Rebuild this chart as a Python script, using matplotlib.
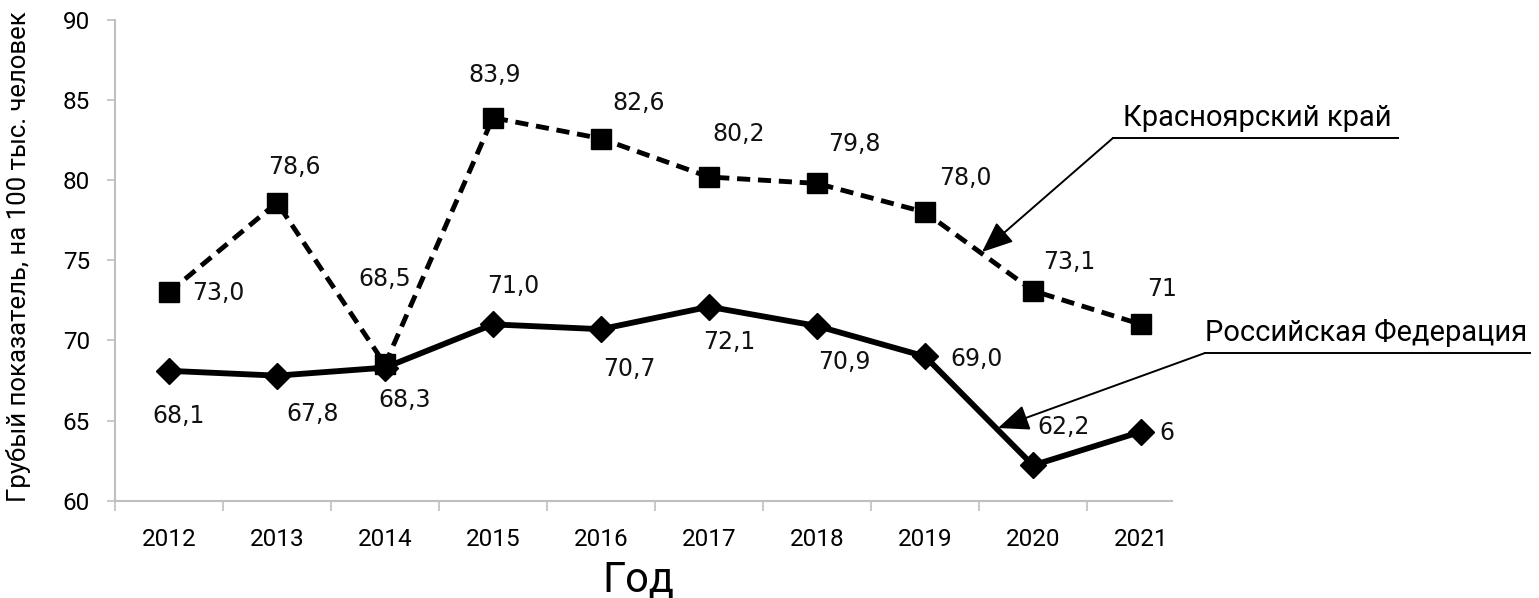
import matplotlib.pyplot as plt

# данные
years = ['2012', '2013', '2014', '2015', '2016', '2017', '2018', '2019', '2020', '2021']
krsk = [73.0, 78.6, 68.5, 83.9, 82.6, 80.2, 79.8, 78.0, 73.1, 71.0]
rf = [68.1, 67.8, 68.3, 71.0, 70.7, 72.1, 70.9, 69.0, 62.2, 64.3]
krsk_labels = ['73,0', '78,6', '68,5', '83,9', '82,6', '80,2', '79,8', '78,0', '73,1', '71']
rf_labels = ['68,1', '67,8', '68,3', '71,0', '70,7', '72,1', '70,9', '69,0', '62,2', '6']

# смещения подписей (пиксели, вверх +)
krsk_off = [(49, -1), (17, 36), (0, 85), (2, 43), (38, 36), (30, 43), (37, 39), (40, 34), (36, 29), (6, 35)]
rf_off = [(10, -45), (36, -38), (20, -32), (20, 38), (28, -40), (20, -35), (27, -36), (52, -3), (31, 38), (18, -1)]

W, H = 1539, 598
narrow = ['Liberation Sans Narrow', 'Roboto', 'DejaVu Sans']
grey = '#bfbfbf'

fig = plt.figure(figsize=(W / 100, H / 100), dpi=100)
ax = fig.add_axes([115 / W, 1 - 500.6 / H, (1172 - 115) / W, (500.6 - 20) / H])

x = list(range(len(years)))
ax.plot(x, krsk, color='black', linewidth=3.5, dashes=(2.7, 1.6),
        marker='s', markersize=14, zorder=3)
ax.plot(x, rf, color='black', linewidth=4.2, linestyle='-',
        marker='D', markersize=13.5, zorder=4)

for i in x:
    ha = 'left' if i == len(x) - 1 else 'center'
    ax.annotate(krsk_labels[i], (x[i], krsk[i]), xytext=krsk_off[i],
                textcoords='offset pixels', ha=ha, va='center',
                fontsize=17, family='DejaVu Sans', color='#111111',
                annotation_clip=False)
    ax.annotate(rf_labels[i], (x[i], rf[i]), xytext=rf_off[i],
                textcoords='offset pixels', ha=ha, va='center',
                fontsize=17, family='DejaVu Sans', color='#111111',
                annotation_clip=False)

ax.set_xlim(-0.5, 9.287)
ax.set_ylim(60, 90)
ax.set_yticks(range(60, 91, 5))
ax.set_xticks(x)
ax.set_xticklabels(years)
ax.set_xticks([i - 0.5 for i in range(10)], minor=True)

for s in ['top', 'right']:
    ax.spines[s].set_visible(False)
for s in ['left', 'bottom']:
    ax.spines[s].set_color(grey)
    ax.spines[s].set_linewidth(1.5)

ax.tick_params(axis='x', which='major', length=0, pad=20)
ax.tick_params(axis='x', which='minor', length=7, width=1.2, color=grey)
ax.tick_params(axis='y', length=6, width=1.2, color=grey, pad=12)
for lbl in ax.get_xticklabels() + ax.get_yticklabels():
    lbl.set_fontfamily(narrow)
    lbl.set_fontsize(17.5)

fig.text(638 / W, 1 - 580 / H, 'Год', fontsize=30, family=narrow,
         ha='center', va='center')
fig.text(6 / W, 1 - 502 / H, 'Грубый показатель, на 100 тыс. человек',
         fontsize=18.5, family=narrow, rotation=90, ha='left', va='bottom')

# выноски
def leader(text, x0, x1, y, tip, tx):
    yf = H - y
    fig.add_artist(plt.Line2D([x0 / W, x1 / W], [yf / H, yf / H],
                              transform=fig.transFigure, color='black', lw=1.4))
    ax.annotate('', xy=(tip[0], H - tip[1]), xycoords='figure pixels',
                xytext=(x0, yf), textcoords='figure pixels',
                arrowprops=dict(arrowstyle='-|>,head_length=0.6,head_width=0.25',
                                color='black', lw=1.4,
                                mutation_scale=32, shrinkA=0, shrinkB=0))
    fig.text(tx / W, (yf + 6) / H, text, fontsize=21, family=narrow,
             ha='left', va='bottom')

leader('Красноярский край', 1113, 1398, 138, (982, 252), 1123)
leader('Российская Федерация', 1205, 1530, 353, (998, 428), 1205)

fig.savefig('out.png', dpi=100)
